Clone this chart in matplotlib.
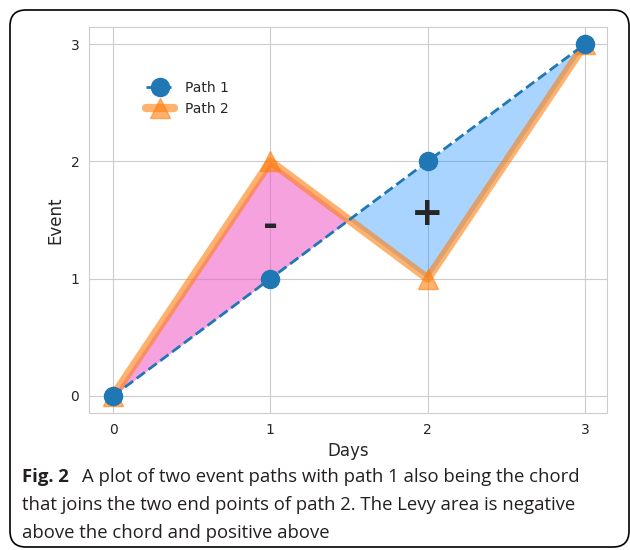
import numpy as np
import matplotlib.pyplot as plt
import seaborn as sns
from matplotlib.patches import FancyBboxPatch

# data
days = [0, 1, 2, 3]
path1 = [0, 1, 2, 3]
path2 = [0, 2, 1, 3]
cross_day = 1.5  # where the two paths meet
cross_event = 1.5

caption_bold = "Fig. 2"
caption_lines = ["A plot of two event paths with path 1 also being the chord",
                 "that joins the two end points of path 2. The Levy area is negative",
                 "above the chord and positive above"]

sns.set_style("whitegrid")
plt.rcParams['font.family'] = ['DejaVu Sans']
plt.rcParams['font.sans-serif'] = ['DejaVu Sans']

fig = plt.figure(figsize=(6.3, 5.5), dpi=100)

# rounded border around figure and caption
W, H = 630, 550
border = FancyBboxPatch((10, H - 547), 619, 537,
                        boxstyle="round,pad=0,rounding_size=16",
                        transform=None, fill=False,
                        edgecolor="black", linewidth=1.2)
fig.patches.append(border)

ax = fig.add_axes([89 / W, 1 - 413 / H, 518 / W, 386 / H])

# fill between the paths, split at the crossing point
x_neg = [days[0], days[1], cross_day]
lo_neg = [path1[0], path1[1], cross_event]
hi_neg = [path2[0], path2[1], cross_event]
x_pos = [cross_day, days[2], days[3]]
lo_pos = [cross_event, path2[2], path2[3]]
hi_pos = [cross_event, path1[2], path1[3]]

ax.fill_between(x_neg, lo_neg, hi_neg, color="#ee60c8", alpha=0.58, linewidth=0, zorder=2)
ax.fill_between(x_pos, lo_pos, hi_pos, color="dodgerblue", alpha=0.38, linewidth=0, zorder=2)
ax.plot(days, path2, color="C1", linewidth=6, alpha=0.6, marker="^",
        markersize=14, label="Path 2", zorder=3)
ax.plot(days, path1, color="C0", linestyle="--", linewidth=2, marker="o",
        markersize=13, label="Path 1", zorder=4)

ax.text(1, 1.45, "-", fontsize=26, fontweight="bold", ha="center", va="center")
ax.text(2, 1.55, "+", fontsize=28, fontweight="bold", ha="center", va="center")

ax.set_xlim(-0.153, 3.14)
ax.set_ylim(-0.145, 3.145)
ax.set_xticks(days)
ax.set_yticks([0, 1, 2, 3])
ax.tick_params(labelsize=10, colors="0.15")
ax.set_xlabel("Days", fontsize=12, color="0.15")
ax.set_ylabel("Event", fontsize=12, color="0.15")

handles, labels = ax.get_legend_handles_labels()
ax.legend(handles[::-1], labels[::-1], loc="upper left",
          bbox_to_anchor=(0.1, 0.875), frameon=False, fontsize=10,
          handlelength=2.0, borderaxespad=0)

# caption
cap_color = "#231f20"
fig.text(22 / W, 1 - 477 / H, caption_bold, fontsize=13.3, fontweight="bold",
         family="Open Sans", va="center", color=cap_color)
fig.text(82 / W, 1 - 477 / H, caption_lines[0], fontsize=13.3,
         family="Open Sans", va="center", color=cap_color)
for i, line in enumerate(caption_lines[1:]):
    fig.text(22 / W, 1 - (505 + 28 * i) / H, line, fontsize=13.3,
             family="Open Sans", va="center", color=cap_color)

plt.savefig("out.png", dpi=100)
